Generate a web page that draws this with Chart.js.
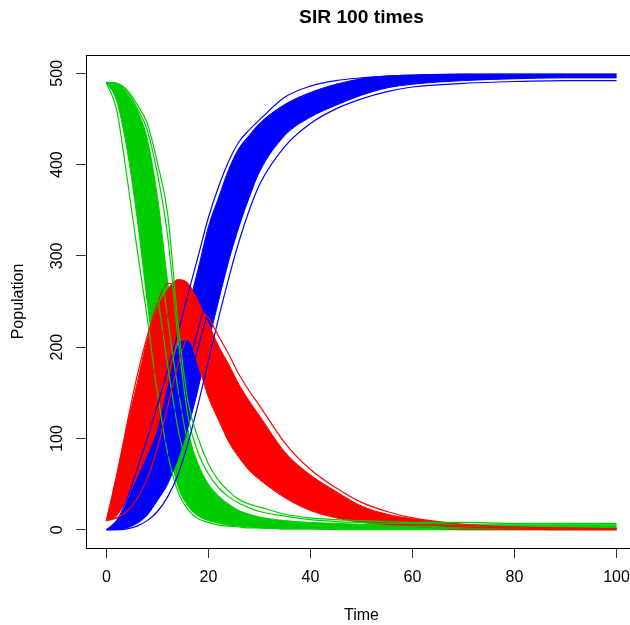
<!DOCTYPE html>
<html>
<head>
<meta charset="utf-8">
<title>SIR 100 times</title>
<script src="https://cdn.jsdelivr.net/npm/chart.js@4.4.1/dist/chart.umd.min.js"></script>
<style>
  html, body { margin: 0; padding: 0; overflow: hidden; background: #fff; }
  #wrap { width: 630px; height: 625px; overflow: hidden; }
</style>
</head>
<body>
<div id="wrap"><canvas id="sir" width="640" height="625"></canvas></div>
<script>
// time points shared by every curve
const times = [0, 2, 4, 6, 8, 10, 12, 14, 16, 18, 20, 22, 24, 26, 28, 30, 35, 40, 45, 50, 55, 60, 70, 80, 90, 100];

// S (green) - edges of the dense bundle of runs, plus a few single runs
const susLow   = [490, 470, 418, 342, 250, 162, 98, 48, 26, 15, 10, 7, 5, 4, 3, 2, 1, 1, 0, 0, 0, 0, 0, 0, 0, 0];
const susHigh  = [490, 489, 478, 460, 428, 365, 272, 190, 110, 72, 50, 37, 28, 21, 17, 14, 10, 8, 7, 6, 6, 5, 5, 5, 5, 5];
const susMid   = [490, 482, 452, 405, 338, 258, 180, 112, 66, 40, 26, 18, 13, 10, 8, 6, 4, 3, 3, 3, 2, 2, 2, 2, 2, 2];
const susMid2  = [490, 486, 466, 432, 385, 318, 232, 155, 94, 58, 38, 27, 20, 15, 12, 10, 7, 6, 5, 4, 4, 4, 3, 3, 3, 3];
const susEarly = [490, 460, 388, 308, 232, 150, 84, 42, 22, 12, 8, 5, 4, 3, 2, 2, 1, 1, 1, 1, 1, 1, 1, 1, 1, 1];
const susLate  = [490, 489, 482, 466, 445, 402, 346, 228, 140, 100, 72, 54, 42, 33, 28, 25, 17, 13, 11, 10, 9, 8, 8, 7, 7, 7];
const susLate2 = [490, 489, 480, 462, 438, 390, 322, 212, 124, 84, 61, 46, 36, 29, 24, 20, 15, 11, 9, 8, 7, 7, 6, 6, 6, 6];

// I (red)
const infLow   = [10, 15, 34, 58, 83, 112, 160, 205, 208, 180, 145, 120, 96, 79, 65, 55, 35, 21, 13, 8, 6, 4, 0, 0, 0, 0];
const infHigh  = [10, 60, 112, 160, 208, 243, 263, 274, 270, 250, 226, 201, 181, 159, 141, 125, 85, 60, 42, 26, 17, 12, 5, 3, 2, 2];
const infMid   = [10, 22, 46, 85, 135, 190, 235, 258, 255, 225, 194, 167, 144, 123, 103, 85, 57, 38, 24, 15, 10, 7, 3, 2, 1, 1];
const infEarly = [10, 58, 115, 168, 212, 248, 270, 266, 238, 205, 172, 144, 120, 100, 82, 68, 42, 26, 16, 10, 6, 4, 2, 1, 0, 0];
const infLate  = [10, 13, 20, 34, 56, 90, 135, 180, 215, 240, 232, 212, 192, 170, 152, 136, 95, 66, 46, 30, 20, 13, 6, 3, 2, 1];

// R (blue)
const recLow   = [0, 0, 2, 7, 16, 32, 50, 78, 112, 155, 205, 251, 295, 332, 364, 392, 432, 452, 465, 476, 484, 488, 492, 494, 495, 495];
const recHigh  = [0, 9, 30, 60, 92, 125, 163, 202, 243, 286, 332, 364, 395, 418, 432, 445, 466, 479, 488, 494, 497, 498, 499, 499, 499, 499];
const recMid   = [0, 3, 11, 25, 45, 72, 105, 142, 180, 220, 262, 302, 338, 368, 392, 412, 446, 466, 478, 486, 491, 494, 496, 497, 497, 497];
const recMid2  = [0, 1, 6, 15, 30, 52, 80, 115, 155, 200, 240, 282, 320, 352, 378, 400, 438, 458, 470, 480, 486, 490, 493, 495, 496, 496];
const recEarly = [0, 10, 33, 66, 100, 136, 175, 215, 258, 300, 342, 376, 404, 425, 438, 449, 474, 486, 492, 495, 497, 498, 499, 499, 499, 499];
const recLate  = [0, 0, 1, 4, 10, 20, 36, 60, 95, 138, 185, 232, 276, 316, 350, 378, 420, 445, 461, 472, 480, 485, 489, 491, 492, 492];

const timeTicks = [0, 20, 40, 60, 80, 100];
const popTicks = [0, 100, 200, 300, 400, 500];

const fam = "'Liberation Sans', Arial, Helvetica, sans-serif";
const green = '#00cd00', red = '#ff0000', blue = '#0000ff';

function pts(vals) {
    return times.map((t, i) => ({ x: t, y: vals[i] }));
}
function run(vals, col) {
    return { data: pts(vals), borderColor: col, borderWidth: 1.2, fill: false };
}
// lower edge, then upper edge filled down to it
function band(lo, hi, col) {
    return [
        { data: pts(lo), borderColor: col, borderWidth: 1, fill: false },
        { data: pts(hi), borderColor: col, borderWidth: 1, backgroundColor: col, fill: '-1' }
    ];
}

// listed bottom layer first
const layers = [
    ...band(susLow, susHigh, green),
    ...band(recLow, recHigh, blue),
    ...band(infLow, infHigh, red),
    run(susEarly, green), run(infEarly, red), run(recEarly, blue),
    run(susMid2, green), run(recMid2, blue),
    run(susMid, green), run(infMid, red), run(recMid, blue),
    run(susLate2, green), run(recLate, blue), run(infLate, red),
    run(susLate, green)
];
// chart.js paints higher "order" first
layers.forEach((d, i) => {
    d.order = layers.length - i;
    d.pointRadius = 0;
    d.cubicInterpolationMode = 'monotone';
});

// the R-style box round the plot region
const frame = {
    id: 'frame',
    afterDraw(chart) {
        const { ctx, chartArea: a } = chart;
        ctx.save();
        ctx.strokeStyle = '#000';
        ctx.lineWidth = 1;
        ctx.strokeRect(Math.round(a.left) + 0.5, Math.round(a.top) + 0.5,
            Math.round(a.right - a.left), Math.round(a.bottom - a.top));
        ctx.restore();
    }
};

const gridOpts = { display: true, drawOnChartArea: false, drawTicks: true, tickLength: 10, tickColor: '#333', tickWidth: 1 };

new Chart(document.getElementById('sir'), {
    type: 'line',
    data: { datasets: layers },
    options: {
        responsive: false,
        animation: false,
        layout: { padding: { left: 0, right: 3, top: 0, bottom: 0 } },
        plugins: {
            legend: { display: false },
            tooltip: { enabled: false },
            title: {
                display: true,
                text: 'SIR 100 times',
                fullSize: false,
                color: '#000',
                font: { family: fam, size: 19.2, weight: 'bold' },
                padding: { top: 6, bottom: 26 }
            }
        },
        scales: {
            x: {
                type: 'linear',
                min: -4,
                max: 104,
                afterBuildTicks: s => { s.ticks = timeTicks.map(v => ({ value: v })); },
                afterFit: s => { s.height = 77; },
                grid: gridOpts,
                border: { display: true, color: '#000', width: 1 },
                ticks: { autoSkip: false, maxRotation: 0, padding: 10, color: '#000', font: { family: fam, size: 16 } },
                title: { display: true, text: 'Time', color: '#000', font: { family: fam, size: 16 }, padding: { top: 0, bottom: 0 } }
            },
            y: {
                type: 'linear',
                min: -20,
                max: 520,
                afterBuildTicks: s => { s.ticks = popTicks.map(v => ({ value: v })); },
                afterFit: s => { s.width = 86; },
                grid: gridOpts,
                border: { display: true, color: '#000', width: 1 },
                ticks: { autoSkip: false, minRotation: 90, maxRotation: 90, crossAlign: 'center', padding: 5, color: '#000', font: { family: fam, size: 16 } },
                title: { display: true, text: 'Population', color: '#000', font: { family: fam, size: 16 }, padding: { top: 9, bottom: 0 } }
            }
        }
    },
    plugins: [frame]
});
</script>
</body>
</html>
